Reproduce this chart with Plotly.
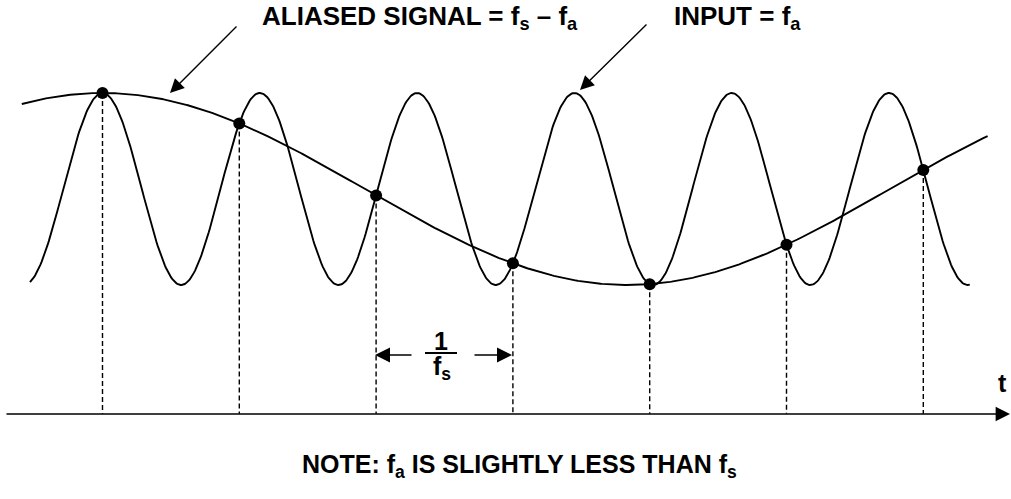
import numpy as np
import plotly.graph_objects as go

# time in units of the sample period 1/fs, amplitude normalised to +/-1
FS = 1.0
F_ALIAS = 0.1303           # fs - fa (period ~ 7.7 samples)
FA = FS - F_ALIAS          # input slightly below fs

SAMPLE_N = [0, 1, 2, 3, 4, 5, 6]
INPUT_SPAN = [-0.53, 6.34]
ALIAS_SPAN = [-0.59, 6.47]
T_AXIS_LEVEL = -2.34

W, H = 1011, 499
FONT = "Liberation Sans, Arial, sans-serif"


def px(x):
    return x / W


def py(y):
    return 1 - y / H


t_in = np.linspace(INPUT_SPAN[0], INPUT_SPAN[1], 900)
t_al = np.linspace(ALIAS_SPAN[0], ALIAS_SPAN[1], 600)
y_in = np.cos(2 * np.pi * FA * t_in)
y_al = np.cos(2 * np.pi * F_ALIAS * t_al)

t_s = np.array(SAMPLE_N) / FS
y_s = np.cos(2 * np.pi * F_ALIAS * t_s)

# dashed drop lines from each sample to the t axis
drop_x, drop_y = [], []
for t, y in zip(t_s, y_s):
    drop_x += [t, t, None]
    drop_y += [y, T_AXIS_LEVEL, None]

fig = go.Figure()
fig.add_trace(go.Scatter(x=drop_x, y=drop_y, mode="lines",
                         line=dict(color="black", width=1.4, dash="5px,3px")))
fig.add_trace(go.Scatter(x=t_in, y=y_in, mode="lines",
                         line=dict(color="black", width=1.9)))
fig.add_trace(go.Scatter(x=t_al, y=y_al, mode="lines",
                         line=dict(color="black", width=1.9)))
fig.add_trace(go.Scatter(x=t_s, y=y_s, mode="markers",
                         marker=dict(color="black", size=12)))

ann = []


def label(text, x, y, size=25, xanchor="center", yanchor="middle"):
    ann.append(dict(text=f"<b>{text}</b>", x=px(x), y=py(y), xref="paper", yref="paper",
                    showarrow=False, xanchor=xanchor, yanchor=yanchor,
                    font=dict(family=FONT, size=size, color="black")))


def pointer(x_tip, y_tip, x_tail, y_tail, size=2.0, width=1.4):
    ann.append(dict(text="", x=px(x_tip), y=py(y_tip), xref="paper", yref="paper",
                    ax=x_tail - x_tip, ay=y_tail - y_tip, showarrow=True,
                    arrowhead=2, arrowsize=size, arrowwidth=width, arrowcolor="black"))


label("ALIASED SIGNAL = f<sub>s</sub> – f<sub>a</sub>", 260, 17, size=26, xanchor="left")
label("INPUT = f<sub>a</sub>", 672, 17, size=26, xanchor="left")
pointer(170, 93, 238, 25)
pointer(580, 90, 648, 23)

# 1/fs span marker
label("1", 441, 341)
label("f<sub>s</sub>", 442, 368)
pointer(375, 355, 413, 355, size=2.0, width=1.5)
pointer(512, 355, 473, 355, size=2.0, width=1.5)

# t axis
pointer(1010, 414, 5, 414, size=1.8, width=1.6)
label("t", 1002, 383, size=25)

label("NOTE: f<sub>a</sub> IS SLIGHTLY LESS THAN f<sub>s</sub>", 300, 466, xanchor="left")

fig.update_layout(
    width=W, height=H,
    margin=dict(l=0, r=0, t=0, b=0),
    paper_bgcolor="white", plot_bgcolor="white",
    showlegend=False,
    annotations=ann,
    shapes=[dict(type="line", xref="paper", yref="paper",
                 x0=px(425), x1=px(457), y0=py(353), y1=py(353),
                 line=dict(color="black", width=2))],
    xaxis=dict(range=[-102.5 / 136.8, (W - 102.5) / 136.8], visible=False, fixedrange=True),
    yaxis=dict(range=[(189 - H) / 96, 189 / 96], visible=False, fixedrange=True),
)

# page body has a default 8px margin; drop it so the figure fills the window
fig.write_html("out.html", config={"displayModeBar": False},
               post_script="document.body.style.margin='0';")
